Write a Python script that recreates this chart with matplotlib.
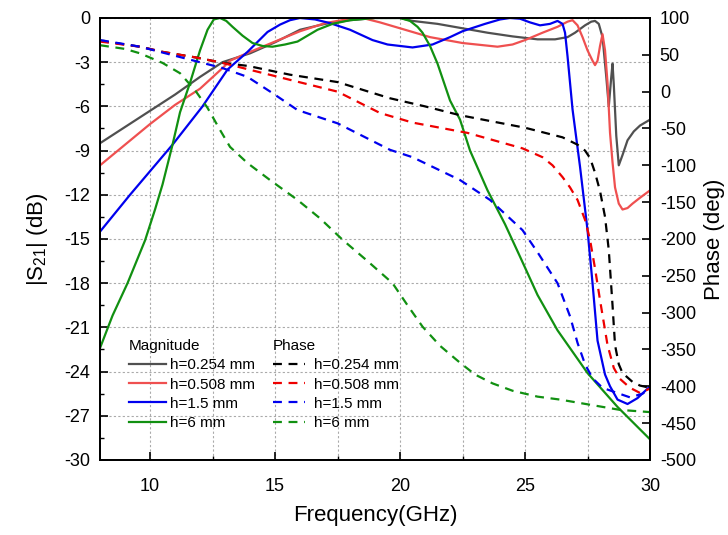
import numpy as np
import matplotlib
matplotlib.use("Agg")
import matplotlib.pyplot as plt
from matplotlib.ticker import MultipleLocator
from matplotlib.lines import Line2D

plt.rcParams['font.family'] = ['Liberation Sans', 'DejaVu Sans']
plt.rcParams['axes.unicode_minus'] = False
plt.rcParams['mathtext.fontset'] = 'custom'
plt.rcParams['mathtext.rm'] = 'Liberation Sans'
plt.rcParams['mathtext.it'] = 'Liberation Sans:italic'

# |S21| magnitude (dB) for each substrate thickness
f_mag_0254 = [8, 9, 10, 11, 12, 12.9, 14, 15, 16, 17, 18, 19, 20, 20.5, 21.5, 22.5, 23.5,
              24.5, 25.5, 26.2, 26.7, 27, 27.4, 27.65, 27.8, 27.95, 28.1, 28.25, 28.35, 28.45,
              28.5, 28.55, 28.65, 28.75, 28.9, 29.1, 29.35, 29.6, 30]
mag_0254 = [-8.5, -7.4, -6.3, -5.2, -4.0, -3.0, -2.4, -1.65, -0.8, -0.4, -0.15, 0, 0, -0.2, -0.4,
            -0.7, -1.0, -1.25, -1.45, -1.45, -1.3, -1.0, -0.5, -0.25, -0.2, -0.4, -1.3, -4.0,
            -6.0, -4.0, -3.1, -4.5, -8.0, -10.0, -9.3, -8.3, -7.7, -7.3, -6.9]

f_mag_0508 = [8, 9, 10, 11, 12, 12.9, 13.2, 14, 15, 16, 17, 18, 18.5, 19.2, 20, 21.2, 22.5, 23.9,
              24.5, 25, 25.7, 26.3, 26.7, 26.9, 27.1, 27.3, 27.5, 27.7, 27.8, 27.9, 28.0, 28.1,
              28.2, 28.3, 28.4, 28.5, 28.6, 28.75, 28.9, 29.1, 29.3, 29.6, 30]
mag_0508 = [-10.0, -8.6, -7.2, -5.9, -4.8, -3.4, -2.9, -2.3, -1.6, -0.9, -0.35, -0.05, 0, -0.3,
            -0.7, -1.3, -1.7, -1.95, -1.8, -1.5, -1.0, -0.6, -0.25, -0.15, -0.5, -1.3, -2.2,
            -2.9, -3.2, -2.9, -1.9, -1.1, -2.2, -4.4, -7.8, -9.8, -11.5, -12.6, -13.0, -12.9,
            -12.6, -12.2, -11.7]

f_mag_15 = [8, 9.2, 10.9, 12.1, 13.1, 13.9, 14.7, 15.2, 15.6, 16, 16.6, 17.2, 18, 18.9, 19.5,
            20.5, 21.3, 22, 22.5, 23.4, 24, 24.4, 24.8, 25.2, 25.6, 26, 26.3, 26.5, 26.6, 26.7,
            26.9, 27.2, 27.5, 27.7, 27.9, 28.2, 28.4, 28.7, 29.1, 29.5, 30]
mag_15 = [-14.5, -12.0, -8.6, -6.0, -3.5, -2.3, -0.95, -0.45, -0.15, 0, -0.1, -0.35, -0.8, -1.5,
          -1.8, -2.0, -1.8, -1.3, -0.9, -0.4, -0.1, 0, -0.05, -0.3, -0.5, -0.4, -0.2, -0.4,
          -1.0, -2.6, -6.2, -10.1, -14.4, -18.0, -21.9, -24.2, -25.0, -25.9, -26.2, -25.8, -25.0]

f_mag_6 = [8, 8.5, 9.1, 9.8, 10.2, 10.5, 10.9, 11.2, 11.6, 12.0, 12.3, 12.55, 12.8, 13.05, 13.3,
           13.7, 14.1, 14.5, 14.9, 15.4, 15.9, 16.3, 16.7, 17.3, 18, 19, 20, 20.4, 20.7, 20.9,
           21.2, 21.5, 22, 22.4, 22.8, 23.5, 24.2, 24.8, 25.5, 26.3, 27.5, 28.7, 30]
mag_6 = [-22.4, -20.2, -18.0, -15.1, -13.0, -11.3, -8.6, -6.4, -4.4, -2.2, -0.8, -0.1, 0, -0.2,
         -0.6, -1.2, -1.7, -1.9, -1.95, -1.8, -1.6, -1.2, -0.8, -0.4, -0.15, 0, 0, -0.2, -0.6,
         -1.0, -1.9, -3.1, -5.6, -6.9, -9.0, -11.7, -14.0, -16.2, -18.8, -21.2, -24.1, -26.4,
         -28.6]

# phase (deg)
f_ph_0254 = [8, 9.6, 10.5, 11.9, 12.9, 13.9, 15.6, 17.5, 19.6, 21, 22.4, 25, 26.5, 27.1, 27.4,
             27.6, 27.8, 28.0, 28.2, 28.35, 28.5, 28.6, 28.75, 28.9, 29.3, 29.6, 30]
ph_0254 = [69, 61, 54, 46, 39, 35, 23, 13, -9, -20, -32, -49, -62, -72, -80, -90, -110, -135,
           -170, -215, -290, -344, -370, -382, -394, -399, -402]

f_ph_0508 = [8, 9.6, 10.5, 11.9, 12.9, 15.6, 17.5, 19.2, 20.5, 22.7, 24.9, 25.7, 26.1, 26.5,
             26.8, 27.1, 27.4, 27.6, 27.8, 28, 28.3, 28.55, 28.8, 29.2, 29.6, 30]
ph_0508 = [68, 61, 54, 46, 39, 16, 0, -29, -42, -56, -77, -89, -100, -116, -130, -147, -174,
           -201, -240, -283, -344, -375, -390, -402, -409, -403]

f_ph_15 = [8, 9.6, 12.9, 13.9, 14.9, 15.9, 17.5, 19.6, 20.5, 22.4, 23.6, 24.9, 25.5, 26.3, 26.8,
           27.1, 27.4, 27.7, 28.1, 28.6, 29.2, 29.7, 30]
ph_15 = [70, 61, 32, 20, -2, -25, -43, -79, -89, -120, -147, -188, -218, -260, -305, -341, -370,
         -389, -402, -408, -415, -410, -402]

f_ph_6 = [8, 9, 9.6, 10.5, 11.2, 11.8, 12.3, 12.8, 13.2, 13.9, 14.8, 15.9, 16.8, 17.7, 18.7,
          19.7, 20.3, 20.9, 21.6, 22.4, 23, 23.7, 24.5, 25.5, 26.4, 28.8, 30]
ph_6 = [63, 58, 52, 39, 25, 2, -22, -52, -75, -97, -120, -147, -172, -201, -230, -260, -290,
        -319, -345, -368, -384, -396, -406, -414, -418, -432, -435]

labels = ['h=0.254 mm', 'h=0.508 mm', 'h=1.5 mm', 'h=6 mm']
mag_colors = ['#505050', '#ef5050', '#0000ee', '#119011']
ph_colors = ['#000000', '#ee0000', '#0000ee', '#119011']

fig = plt.figure(figsize=(7.28, 5.35), dpi=100)
ax = fig.add_axes([0.1374, 0.1402, 0.7555, 0.8262])
ax2 = ax.twinx()

mags = [(f_mag_0254, mag_0254), (f_mag_0508, mag_0508), (f_mag_15, mag_15), (f_mag_6, mag_6)]
phs = [(f_ph_0254, ph_0254), (f_ph_0508, ph_0508), (f_ph_15, ph_15), (f_ph_6, ph_6)]

for (fx, fy), c in zip(mags, mag_colors):
    ax.plot(fx, fy, color=c, lw=1.6, solid_joinstyle='round')
for (fx, fy), c in zip(phs, ph_colors):
    ax2.plot(fx, fy, color=c, lw=1.6, dashes=(4, 3))

ax.set_xlim(8, 30)
ax.set_ylim(-30, 0)
ax2.set_ylim(-500, 100)

ax.xaxis.set_major_locator(MultipleLocator(5))
ax.xaxis.set_minor_locator(MultipleLocator(2.5))
ax.yaxis.set_major_locator(MultipleLocator(3))
ax.yaxis.set_minor_locator(MultipleLocator(1.5))
ax2.yaxis.set_major_locator(MultipleLocator(50))
ax2.yaxis.set_minor_locator(MultipleLocator(25))

ax.grid(True, which='both', axis='x', color='#aaaaaa', ls=(0, (2, 2)), lw=0.8)
ax.grid(True, which='major', axis='y', color='#aaaaaa', ls=(0, (2, 2)), lw=0.8)

for a in (ax, ax2):
    a.tick_params(which='major', direction='in', length=6, width=1.2, labelsize=13)
    a.tick_params(which='minor', direction='in', length=3, width=1.0)
    for s in a.spines.values():
        s.set_linewidth(1.3)
ax2.tick_params(which='minor', length=0)
ax.tick_params(axis='x', pad=13)
ax.tick_params(axis='y', pad=7)
ax2.tick_params(axis='y', pad=7)

ax.set_xlabel('Frequency(GHz)', fontsize=16, labelpad=7)
ax.set_ylabel(r'|S$_{\mathrm{21}}$| (dB)', fontsize=16, labelpad=10)
ax2.set_ylabel('Phase (deg)', fontsize=16, labelpad=6)

mag_handles = [Line2D([], [], color=c, lw=1.6) for c in mag_colors]
ph_handles = [Line2D([], [], color=c, lw=1.6, dashes=(4, 3)) for c in ph_colors]

leg1 = ax2.legend(mag_handles, labels, title='Magnitude', loc='upper left',
                  bbox_to_anchor=(0.042, 0.287), frameon=False, fontsize=11,
                  title_fontsize=11, handlelength=2.4, handletextpad=0.3,
                  labelspacing=0.34, borderaxespad=0)
leg1._legend_box.align = 'left'
ax2.add_artist(leg1)
leg2 = ax2.legend(ph_handles, labels, title='Phase', loc='upper left',
                  bbox_to_anchor=(0.303, 0.287), frameon=False, fontsize=11,
                  title_fontsize=11, handlelength=2.1, handletextpad=0.6,
                  labelspacing=0.34, borderaxespad=0)
leg2._legend_box.align = 'left'

fig.savefig('out.png', dpi=100)
